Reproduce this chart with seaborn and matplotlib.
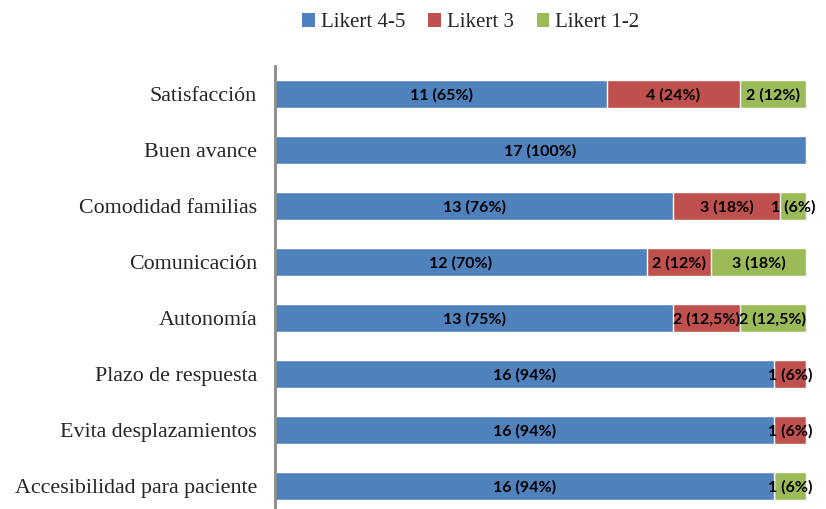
import pandas as pd
import seaborn as sns
import matplotlib.pyplot as plt
from matplotlib.patches import Patch

categories = ["Satisfacción", "Buen avance", "Comodidad familias", "Comunicación",
              "Autonomía", "Plazo de respuesta", "Evita desplazamientos",
              "Accesibilidad para paciente"]
# segment widths (% of bar)
likert45 = [62.5, 100, 75, 70, 75, 94, 94, 94]
likert3 = [25, 0, 20, 12, 12.5, 6, 6, 0]
likert12 = [12.5, 0, 5, 18, 12.5, 0, 0, 6]
# printed labels
labels45 = ["11 (65%)", "17 (100%)", "13 (76%)", "12 (70%)", "13 (75%)", "16 (94%)", "16 (94%)", "16 (94%)"]
labels3 = ["4 (24%)", "", "3 (18%)", "2 (12%)", "2 (12,5%)", "1 (6%)", "1 (6%)", ""]
labels12 = ["2 (12%)", "", "1 (6%)", "3 (18%)", "2 (12,5%)", "", "", "1 (6%)"]

series = ["Likert 4-5", "Likert 3", "Likert 1-2"]
colors = ["#4F81BD", "#C0504D", "#9BBB59"]

df = pd.DataFrame({"cat": categories, "a": likert45, "b": likert3, "c": likert12})
df["ab"] = df["a"] + df["b"]
df["abc"] = df["ab"] + df["c"]

sns.set_style("white")
fig = plt.figure(figsize=(8.26, 5.09), dpi=100)
ax = fig.add_axes([0.333, 0.0, 0.643, 0.870])

# stacked by layering cumulative totals
for col, c in zip(["abc", "ab", "a"], colors[::-1]):
    sns.barplot(data=df, x=col, y="cat", orient="h", color=c, width=0.5,
                saturation=1, ax=ax)

lab_font = dict(family=["Lato", "DejaVu Sans"], fontweight="bold", fontsize=11.5, color="black")
for i in range(len(categories)):
    starts = [0, likert45[i], likert45[i] + likert3[i]]
    widths = [likert45[i], likert3[i], likert12[i]]
    texts = [labels45[i], labels3[i], labels12[i]]
    for s, w, t in zip(starts, widths, texts):
        if t:
            ax.text(s + w / 2, i + 0.02, t, ha="center", va="center", **lab_font)

ax.set_xlim(0, 100)
ax.set_ylim(7.41, -0.5)
ax.set_xlabel("")
ax.set_ylabel("")
ax.set_xticks([])
for s in ["top", "right", "bottom"]:
    ax.spines[s].set_visible(False)
ax.spines["left"].set_color("#8c8c8c")
ax.spines["left"].set_linewidth(2)
ax.tick_params(axis="y", length=0, pad=13)
for t in ax.get_yticklabels():
    t.set_fontfamily("Liberation Serif")
    t.set_fontsize(15.8)

handles = [Patch(facecolor=c, edgecolor="none") for c in colors]
fig.legend(handles, series, loc="center", bbox_to_anchor=(0.57, 0.955), ncol=3,
           frameon=False, handlelength=0.6, handleheight=0.6, handletextpad=0.3,
           columnspacing=1.1, prop={"family": "Liberation Serif", "size": 15})

fig.savefig("out.png", dpi=100)
